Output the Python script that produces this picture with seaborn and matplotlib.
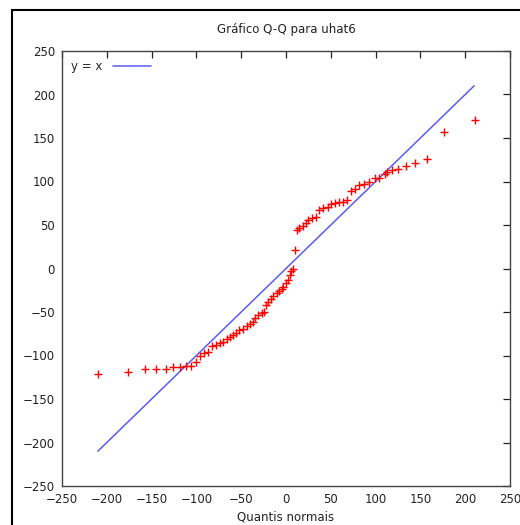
import matplotlib
matplotlib.use("Agg")
import matplotlib.pyplot as plt
from matplotlib.patches import Rectangle
import pandas as pd
import seaborn as sns

# Q-Q points (normal quantiles vs. uhat6)
quantis = [-210, -176, -157, -145, -134, -126, -118, -112, -106, -101,
           -96, -91, -87, -83, -78, -74, -70, -66, -62, -59,
           -56, -52, -48, -44, -40, -37, -35, -31, -27, -25,
           -22, -20, -17, -14, -10, -7.5, -5, -3, 0, 2.5,
           4, 5.5, 7.5, 10, 12.5, 15, 18.5, 22, 25, 29,
           33.5, 37, 41.5, 46.5, 50, 54.5, 59, 64, 68, 73,
           76.5, 81, 87, 93, 99, 104, 110, 113, 118, 125,
           134, 144, 157, 176, 211]
uhat6 = [-121, -119, -116, -116, -116, -113, -113, -112, -112, -107,
         -101, -97, -96, -89, -88, -86, -84, -81, -79, -76,
         -74.5, -71, -69, -66, -64, -62, -57, -53, -51, -50,
         -42, -38, -35, -32, -28.5, -26, -23.5, -21, -17, -13,
         -7, -3, 0, 21, 44, 46.5, 49, 52, 56, 57.5,
         59.5, 67, 70, 71, 74, 75, 76, 77, 79, 89,
         91.5, 96, 97.5, 100, 103.5, 104, 109, 111, 113, 114,
         118, 121, 125.5, 157, 171]

# reference line y = x
ref_x = [-210, 210]
ref_y = [-210, 210]

ticks = [-250, -200, -150, -100, -50, 0, 50, 100, 150, 200, 250]

sns.set_style("white")
plt.rcParams["font.family"] = ["DejaVu Sans"]

fig = plt.figure(figsize=(5.2, 5.25), dpi=100)
ax = fig.add_axes([62 / 520, 1 - 486 / 525, 448 / 520, 435 / 525])

df = pd.DataFrame({"x": quantis, "y": uhat6})
sns.scatterplot(data=df, x="x", y="y", marker="+", color="#ff0000",
                s=38, linewidth=1.0, ax=ax, legend=False, zorder=3)
sns.lineplot(x=ref_x, y=ref_y, color="#5a5af5", linewidth=1.1, ax=ax,
             label="y = x", zorder=2)

ax.set_xlim(-250, 250)
ax.set_ylim(-250, 250)
ax.set_xticks(ticks)
ax.set_yticks(ticks)
ax.tick_params(direction="in", length=5, width=0.9, top=True, right=True,
               labelsize=8.5, colors="#222222", pad=5)
for sp in ax.spines.values():
    sp.set_color("#444444")
    sp.set_linewidth(1.0)

ax.set_xlabel("Quantis normais", fontsize=8.5, color="#222222", labelpad=3)
ax.set_ylabel("")
fig.text(286 / 520, 1 - 29 / 525, "Gráfico Q-Q para uhat6", ha="center",
         va="center", fontsize=8.5, color="#222222")

leg = ax.legend(loc="upper left", frameon=False, markerfirst=False,
                fontsize=8.5, handlelength=3.2, borderaxespad=0.4,
                handletextpad=0.9)

# window border around the whole plot
fig.add_artist(Rectangle((12 / 520, -0.5), 2, 0.5 + 1 - 10 / 525,
                         transform=fig.transFigure, fill=False,
                         edgecolor="black", linewidth=1.5))

fig.savefig("out.png", dpi=100)
